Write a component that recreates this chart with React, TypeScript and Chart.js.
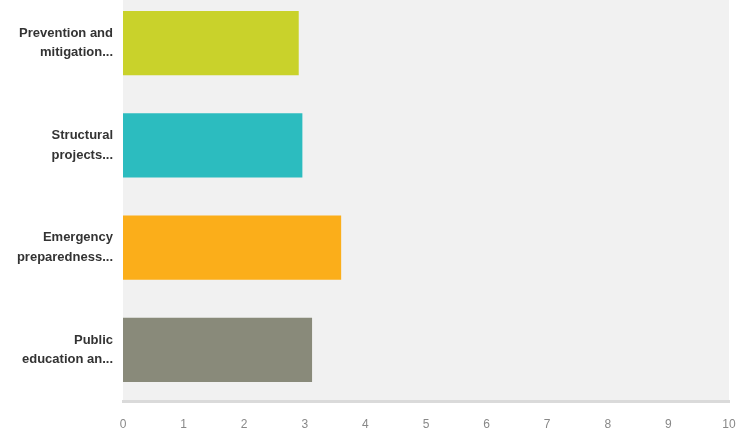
import React, { useEffect, useRef } from "react";
import { Chart, registerables } from "chart.js";

Chart.register(...registerables);

const categories: string[][] = [
  ["Prevention and", "mitigation..."],
  ["Structural", "projects..."],
  ["Emergency", "preparedness..."],
  ["Public", "education an..."],
];
const values: number[] = [2.9, 2.96, 3.6, 3.12];
const barColors: string[] = ["#c9d22b", "#2cbcbf", "#fbae1a", "#898a7a"];
const xMin = 0;
const xMax = 10;

const plotBg = {
  id: "plotBg",
  beforeDraw(chart: any) {
    const { ctx, chartArea } = chart;
    if (!chartArea) return;
    ctx.save();
    ctx.fillStyle = "#f1f1f1";
    ctx.fillRect(chartArea.left, chartArea.top, chartArea.right - chartArea.left, chartArea.bottom - chartArea.top);
    ctx.restore();
  },
};

export default function App() {
  const ref = useRef<HTMLCanvasElement | null>(null);
  useEffect(() => {
    if (!ref.current) return;
    const chart = new Chart(ref.current, {
      type: "bar",
      data: {
        labels: categories,
        datasets: [
          {
            data: values,
            backgroundColor: barColors,
            borderWidth: 0,
            categoryPercentage: 1,
            barPercentage: 0.63,
          },
        ],
      },
      options: {
        indexAxis: "y",
        animation: false,
        responsive: false,
        maintainAspectRatio: false,
        layout: { padding: { left: 0, right: 9, top: 0, bottom: 0 } },
        plugins: { legend: { display: false }, tooltip: { enabled: false } },
        scales: {
          y: {
            grid: { display: false, drawTicks: false },
            border: { display: false },
            ticks: {
              color: "#333",
              padding: 10,
              font: { family: "'Liberation Sans', Arial, sans-serif", size: 13, weight: "bold", lineHeight: 1.5 },
            },
            afterFit(scale: any) {
              scale.width = 123;
              scale.paddingTop = 0;
              scale.paddingBottom = 0;
            },
          },
          x: {
            min: xMin,
            max: xMax,
            grid: { display: false, drawTicks: false },
            border: { display: true, color: "#dadada", width: 3 },
            ticks: {
              stepSize: 1,
              color: "#888",
              padding: 16,
              font: { family: "'Liberation Sans', Arial, sans-serif", size: 12 },
            },
            afterFit(scale: any) {
              scale.height = 36;
              scale.paddingLeft = 0;
              scale.paddingRight = 0;
            },
          },
        },
      },
      plugins: [plotBg],
    });
    return () => chart.destroy();
  }, []);
  return (
    <div style={{ position: "fixed", left: 0, top: -8, width: 738, height: 445, background: "#fff" }}>
      <canvas ref={ref} width={738} height={445} style={{ display: "block" }} />
    </div>
  );
}
